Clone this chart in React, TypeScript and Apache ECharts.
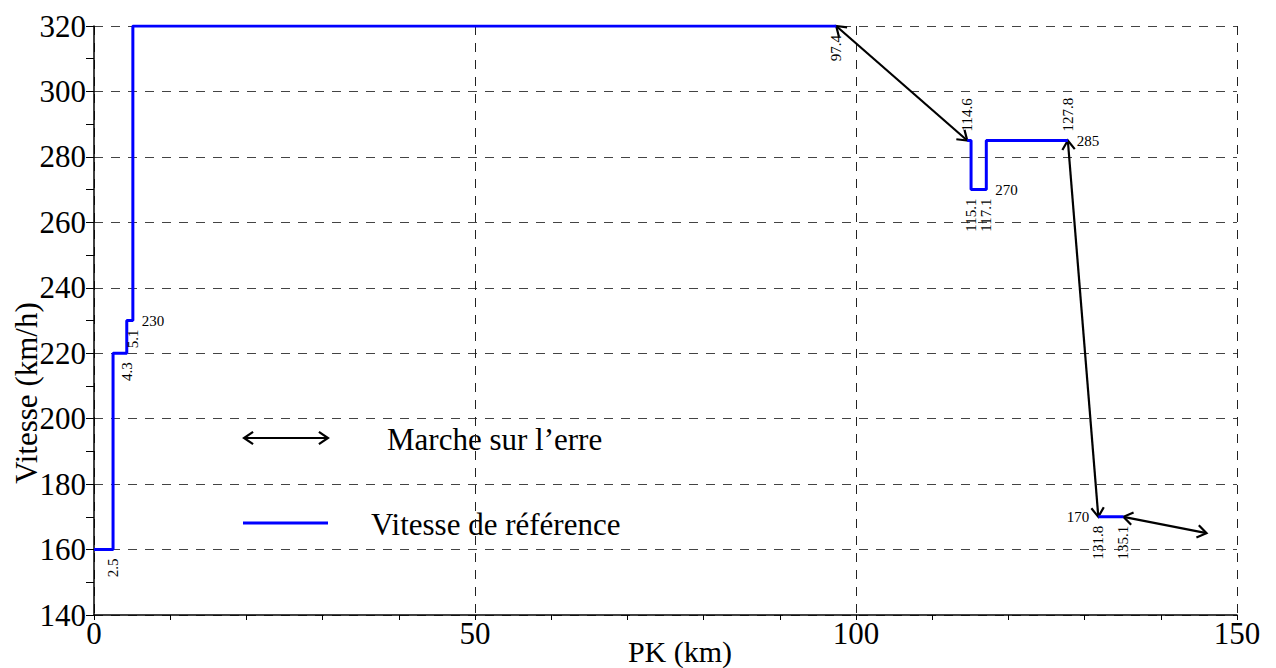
import React, { useEffect, useRef } from "react";
import * as echarts from "echarts";

// ---- Data ----
const xTicks = [0, 50, 100, 150];
const yTicks = [140, 160, 180, 200, 220, 240, 260, 280, 300, 320];

// Reference speed (blue step line), three sections
const ref1Pk = [0, 2.5, 4.3, 5.1, 97.4];
const ref1Speed = [160, 220, 230, 320, 320];
const ref2Pk = [114.6, 115.1, 117.1, 127.8];
const ref2Speed = [285, 270, 285, 285];
const ref3Pk = [131.8, 135.1];
const ref3Speed = [170, 170];

// Coasting ("marche sur l'erre") arrows
const coastFromPk = [97.4, 127.8, 135.1];
const coastFromSpeed = [320, 285, 170];
const coastToPk = [114.6, 131.8, 146];
const coastToSpeed = [285, 170, 165];

// Annotations
const annPk = [2.5, 4.3, 5.1, 5.1, 97.4, 114.6, 115.1, 117.1, 117.1, 127.8, 127.8, 131.8, 131.8, 135.1];
const annSpeed = [160, 220, 230, 230, 320, 285, 270, 270, 270, 285, 285, 170, 170, 170];
const annText = ["2.5", "4.3", "5.1", "230", "97.4", "114.6", "115.1", "117.1", "270", "127.8", "285", "170", "131.8", "135.1"];
const annPlace = ["below", "below", "below", "right", "below", "above", "below", "below", "right", "above", "right", "left", "below", "below"];

const FONT = "Liberation Serif";

function zip(a: number[], b: number[]) {
  return a.map((v, i) => [v, b[i]]);
}

function arrowHeads(x1: number, y1: number, x2: number, y2: number, len: number, ang: number) {
  const a = Math.atan2(y2 - y1, x2 - x1);
  const head = (x: number, y: number, dir: number) => [
    [x + len * Math.cos(dir + ang), y + len * Math.sin(dir + ang)],
    [x, y],
    [x + len * Math.cos(dir - ang), y + len * Math.sin(dir - ang)],
  ];
  return [head(x2, y2, a + Math.PI), head(x1, y1, a)];
}

function arrowGroup(x1: number, y1: number, x2: number, y2: number) {
  const heads = arrowHeads(x1, y1, x2, y2, 11, 0.6);
  const st = { stroke: "#000", lineWidth: 2.2, fill: null as any };
  return [
    { type: "line", shape: { x1, y1, x2, y2 }, style: { ...st } },
    { type: "polyline", shape: { points: heads[0] }, style: { ...st } },
    { type: "polyline", shape: { points: heads[1] }, style: { ...st } },
  ];
}

export default function App() {
  const ref = useRef<HTMLDivElement>(null);
  useEffect(() => {
    document.body.style.margin = "0";
    if (!ref.current) return;
    const chart = echarts.init(ref.current, null, { renderer: "svg" });

    const arrowData = coastFromPk.map((p, i) => [p, coastFromSpeed[i], coastToPk[i], coastToSpeed[i]]);
    const annData = annPk.map((p, i) => [p, annSpeed[i], i]);

    const blueStyle = { color: "#0000ff", width: 3 };
    const lineSeries = [zip(ref1Pk, ref1Speed), zip(ref2Pk, ref2Speed), zip(ref3Pk, ref3Speed)].map((d) => ({
      type: "line",
      data: d,
      step: "end",
      symbol: "none",
      lineStyle: blueStyle,
      z: 5,
    }));

    const option: any = {
      animation: false,
      textStyle: { fontFamily: FONT },
      grid: { left: 94, right: 39, top: 26, bottom: 53, containLabel: false },
      xAxis: {
        type: "value",
        min: xTicks[0],
        max: xTicks[xTicks.length - 1],
        interval: 50,
        axisLine: { show: true, lineStyle: { color: "#000", width: 1.5 } },
        axisTick: { show: true, inside: false, length: 5, lineStyle: { color: "#000" } },
        minorTick: { show: true, splitNumber: 5, length: 5, lineStyle: { color: "#000" } },
        axisLabel: { fontFamily: FONT, fontSize: 31, color: "#000", margin: 3 },
        splitLine: { show: true, lineStyle: { color: "#222", type: [9, 8], width: 1 } },
      },
      yAxis: {
        type: "value",
        min: yTicks[0],
        max: yTicks[yTicks.length - 1],
        interval: 20,
        axisLine: { show: true, lineStyle: { color: "#000", width: 1.5 } },
        axisTick: { show: true, inside: false, length: 8, lineStyle: { color: "#000" } },
        minorTick: { show: true, splitNumber: 2, length: 8, lineStyle: { color: "#000" } },
        axisLabel: { fontFamily: FONT, fontSize: 31, color: "#000", margin: 8 },
        splitLine: { show: true, lineStyle: { color: "#444", type: [9, 8], width: 1 } },
      },
      series: [
        {
          type: "custom",
          clip: false,
          data: arrowData,
          encode: { x: [0, 2], y: [1, 3] },
          z: 4,
          renderItem: (params: any, api: any) => {
            const p1 = api.coord([api.value(0), api.value(1)]);
            const p2 = api.coord([api.value(2), api.value(3)]);
            return { type: "group", children: arrowGroup(p1[0], p1[1], p2[0], p2[1]) };
          },
        },
        ...lineSeries,
        {
          type: "custom",
          clip: false,
          data: annData,
          encode: { x: 0, y: 1 },
          z: 6,
          renderItem: (params: any, api: any) => {
            const idx = api.value(2);
            const p = api.coord([api.value(0), api.value(1)]);
            const place = annPlace[idx];
            const gap = 9;
            let x = p[0];
            let y = p[1];
            let rotation = 0;
            let align = "left";
            const verticalAlign = "middle";
            if (place === "below") {
              y += gap;
              rotation = Math.PI / 2;
              align = "right";
            } else if (place === "above") {
              y -= gap;
              rotation = Math.PI / 2;
              align = "left";
            } else if (place === "right") {
              x += gap;
            } else {
              x -= gap;
              align = "right";
            }
            return {
              type: "text",
              x,
              y,
              rotation,
              style: {
                text: annText[idx],
                fontFamily: FONT,
                fontSize: 15,
                fill: "#000",
                align,
                verticalAlign,
              },
            };
          },
        },
      ],
      graphic: [
        {
          type: "text",
          x: 26,
          y: 393,
          rotation: Math.PI / 2,
          style: { text: "Vitesse (km/h)", fontFamily: FONT, fontSize: 31, fill: "#000", align: "center", verticalAlign: "middle" },
        },
        {
          type: "text",
          x: 680,
          y: 651,
          style: { text: "PK (km)", fontFamily: FONT, fontSize: 30, fill: "#000", align: "center", verticalAlign: "middle" },
        },
        { type: "group", children: arrowGroup(244, 438, 328, 438) },
        {
          type: "text",
          x: 387,
          y: 439,
          style: { text: "Marche sur l\u2019erre", fontFamily: FONT, fontSize: 31, fill: "#000", align: "left", verticalAlign: "middle" },
        },
        { type: "line", shape: { x1: 243, y1: 523, x2: 328, y2: 523 }, style: { stroke: "#0000ff", lineWidth: 3 } },
        {
          type: "text",
          x: 371,
          y: 524,
          style: { text: "Vitesse de r\u00e9f\u00e9rence", fontFamily: FONT, fontSize: 31, fill: "#000", align: "left", verticalAlign: "middle" },
        },
      ],
    };
    chart.setOption(option);
    return () => chart.dispose();
  }, []);
  return <div ref={ref} style={{ width: 1276, height: 668 }} />;
}
